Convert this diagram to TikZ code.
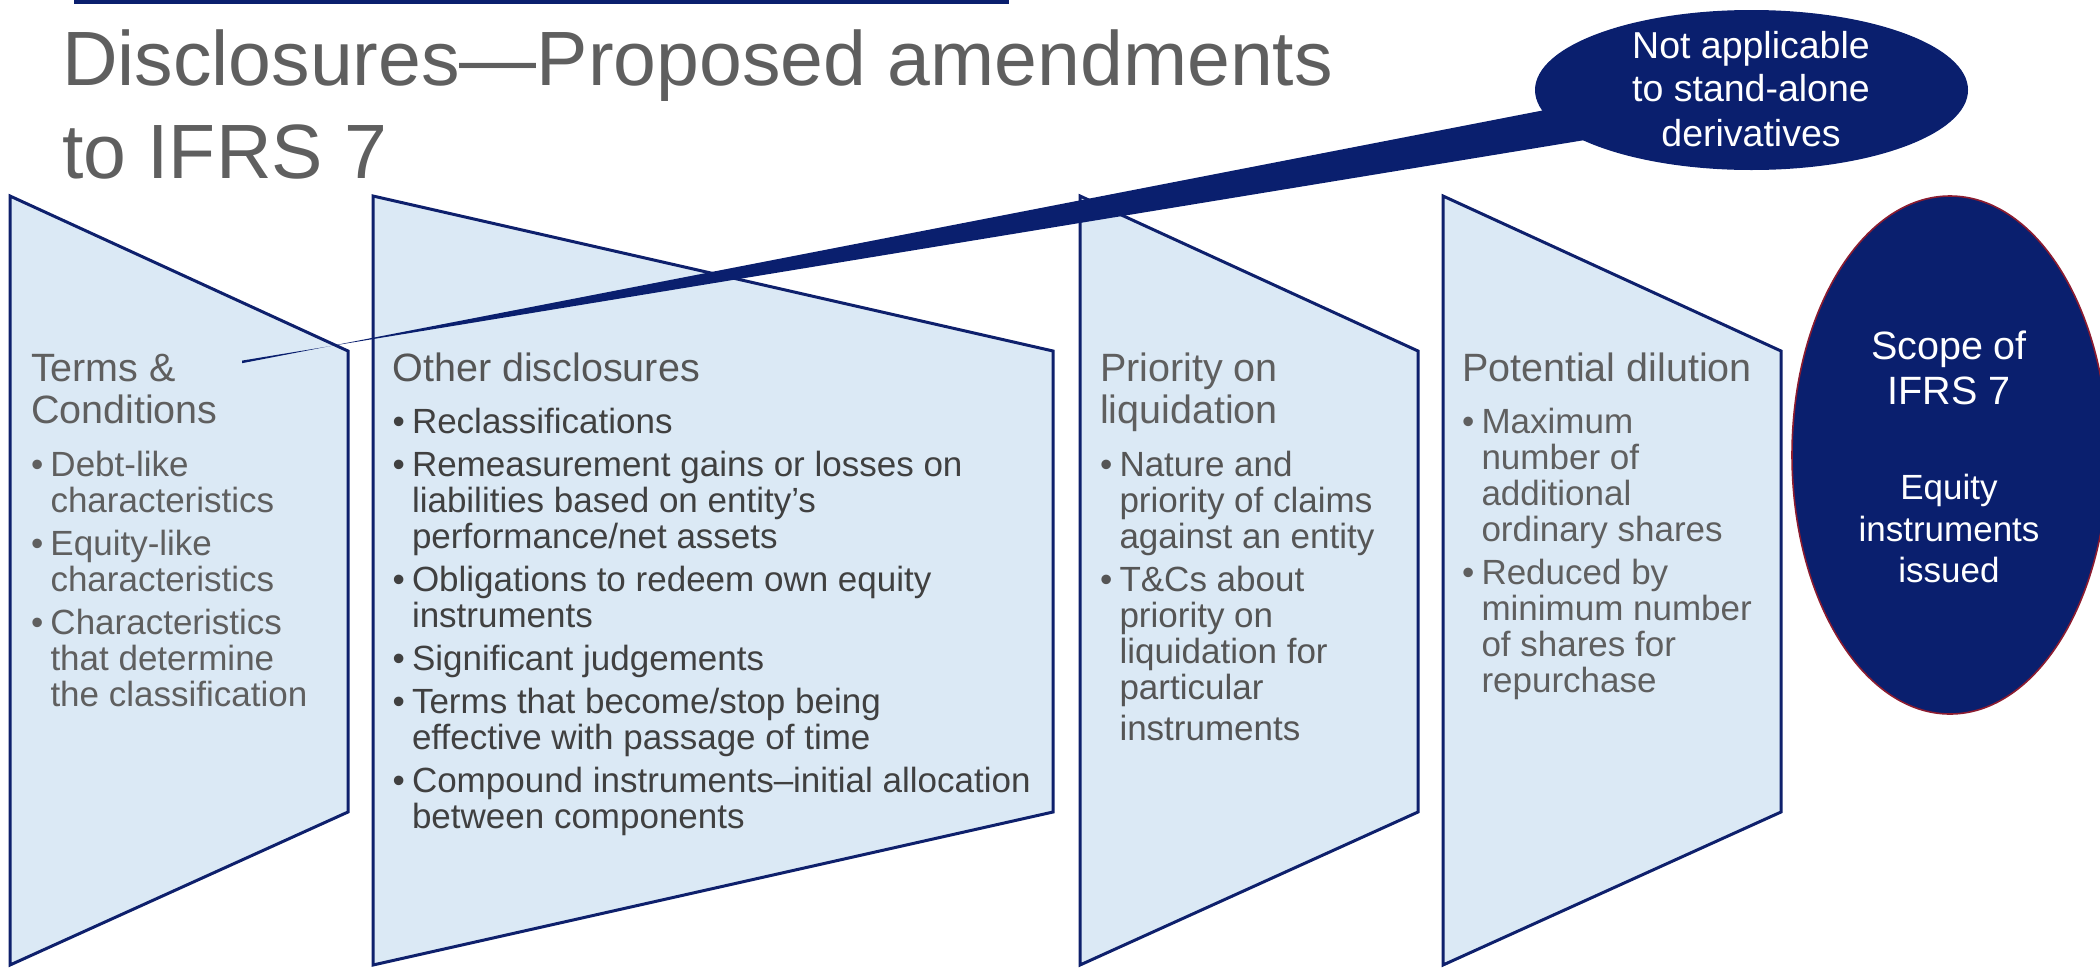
\documentclass[tikz,border=0pt]{standalone}
\usepackage{fontspec}
\setmainfont{Liberation Sans}
\usetikzlibrary{shapes.geometric}
\definecolor{navy}{RGB}{10,31,110}
\definecolor{panelfill}{RGB}{219,233,245}
\definecolor{edgeblue}{RGB}{14,32,108}
\definecolor{txtgray}{RGB}{95,95,95}
\definecolor{txtmid}{RGB}{85,85,85}
\definecolor{txtdark}{RGB}{64,64,64}
\definecolor{scopeedge}{RGB}{140,28,48}
\newlength\bulind \setlength\bulind{19.5pt}
\newcommand\HdLine[1]{\baselineskip=42.5pt\hbox{\fontsize{39.5}{42.5}\selectfont #1}}
\newcommand\FirstB[1]{\baselineskip=52.5pt\hbox{\fontsize{35}{36}\selectfont\makebox[\bulind][l]{•}#1}}
\newcommand\NextB[1]{\baselineskip=43pt\hbox{\fontsize{35}{36}\selectfont\makebox[\bulind][l]{•}#1}}
\newcommand\Cont[1]{\baselineskip=36pt\hbox{\fontsize{35}{36}\selectfont\hspace*{\bulind}#1}}
\newcommand\ContX[1]{\baselineskip=41pt\hbox{\fontsize{35}{36}\selectfont\hspace*{\bulind}#1}}
\newcommand\Blk[1]{\vtop{\lineskiplimit=-1000pt\lineskip=0pt #1}}
\newcommand\CLine[3]{\baselineskip=#1pt\hbox to 440pt{\hfil\fontsize{#2}{#2}\selectfont #3\hfil}}
\begin{document}
\begin{tikzpicture}[x=1pt,y=-1pt,
  panel/.style={fill=panelfill,draw=edgeblue,line width=3pt,line join=miter},
  txt/.style={anchor=base west,inner sep=0pt,outer sep=0pt},
  ctxt/.style={anchor=base,inner sep=0pt,outer sep=0pt,text=white},
  scopeell/.style={ellipse,fill=navy,draw=scopeedge,line width=1.6pt,inner sep=0pt,minimum width=316pt,minimum height=518pt},
  callell/.style={ellipse,fill=navy,draw=none,inner sep=0pt,minimum width=433pt,minimum height=160pt}]
\useasboundingbox (0,0) rectangle (2100,967);
% top rule
\fill[navy] (74,0) rectangle (1009,4);
% title
\node[txt,text=txtgray] (title) at (62,85.7) {\Blk{\baselineskip=93pt
  \hbox{\fontsize{77}{93}\selectfont Disclosures—Proposed amendments}
  \hbox{\fontsize{77}{93}\selectfont to IFRS 7}}};
% panels
\draw[panel] (10,196) -- (348,351) -- (348,812) -- (10,965) -- cycle;
\draw[panel] (373,196) -- (1053,351) -- (1053,812) -- (373,965) -- cycle;
\draw[panel] (1080,196) -- (1418,351) -- (1418,812) -- (1080,965) -- cycle;
\draw[panel] (1443,196) -- (1781,351) -- (1781,812) -- (1443,965) -- cycle;
% panel texts
\node[txt,text=txtgray] (terms) at (31,381) {\Blk{%
  \HdLine{Terms \&}\HdLine{Conditions}%
  \FirstB{Debt-like}\Cont{characteristics}%
  \NextB{Equity-like}\Cont{characteristics}%
  \NextB{Characteristics}\Cont{that determine}\Cont{the classification}}};
\node[txt,text=txtdark] (other) at (392.5,381) {\Blk{%
  \HdLine{\color{txtmid}Other disclosures}%
  \FirstB{Reclassifications}%
  \NextB{Remeasurement gains or losses on}\Cont{liabilities based on entity’s}\Cont{performance/net assets}%
  \NextB{Obligations to redeem own equity}\Cont{instruments}%
  \NextB{Significant judgements}%
  \NextB{Terms that become/stop being}\Cont{effective with passage of time}%
  \NextB{Compound instruments–initial allocation}\Cont{between components}}};
\node[txt,text=txtmid] (priority) at (1100,381) {\Blk{%
  \HdLine{\color{txtgray}Priority on}\HdLine{\color{txtgray}liquidation}%
  \FirstB{Nature and}\Cont{priority of claims}\Cont{against an entity}%
  \NextB{T\&Cs about}\Cont{priority on}\Cont{liquidation for}\Cont{particular}\ContX{instruments}}};
\node[txt,text=txtgray] (dilution) at (1462,381) {\Blk{%
  \HdLine{Potential dilution}%
  \FirstB{Maximum}\Cont{number of}\Cont{additional}\Cont{ordinary shares}%
  \NextB{Reduced by}\Cont{minimum number}\Cont{of shares for}\Cont{repurchase}}};
% scope ellipse
\node[scopeell] (scope) at (1950,455) {};
\node[ctxt] (scopetxt) at (1949,359) {\Blk{%
  \CLine{45}{39.5}{Scope of}\CLine{45.5}{39.5}{IFRS 7}%
  \CLine{95}{35}{Equity}\CLine{41.5}{35}{instruments}\CLine{41.5}{35}{issued}}};
% callout
\node[callell] (callout) at (1751.5,90) {};
\coordinate (tip) at (242,362);
\fill[navy] ([yshift=-1.2pt]tip) -- (1545,110) -- (1585,140) -- ([yshift=1.4pt]tip) -- cycle;
\node[ctxt] (callouttxt) at (1751,58.3) {\Blk{%
  \CLine{44}{37.5}{Not applicable}\CLine{43.5}{37.5}{to stand-alone}\CLine{45}{37.5}{derivatives}}};
\end{tikzpicture}
\end{document}
